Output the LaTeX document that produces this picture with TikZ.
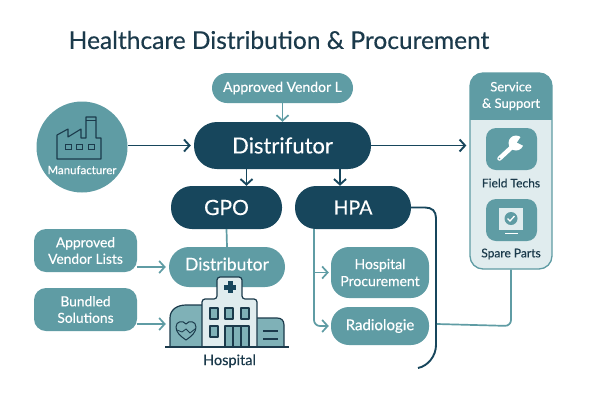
\documentclass[tikz,border=0pt]{standalone}
\usepackage{fontspec}
\setmainfont{Lato}[FakeBold=0.3,AutoFakeBold=false]
\newfontface\plainlato{Lato}[FakeBold=0.35]
\usetikzlibrary{arrows.meta,calc}
\definecolor{teal}{HTML}{5F9CA4}
\definecolor{navy}{HTML}{17465C}
\definecolor{ink}{HTML}{1B3A4B}
\definecolor{pale}{HTML}{E0ECEE}
\definecolor{midt}{HTML}{7FB1B7}
\tikzset{
  x=1pt,y=-1pt,
  pill/.style={rounded corners=#1,inner sep=0pt,text=white,align=center},
  tealbox/.style={pill=#1,fill=teal},
  darkbox/.style={pill=#1,fill=navy},
  darkline/.style={draw=navy,line width=1.9pt,-{Straight Barb[length=5.5pt,width=12pt,line width=1.9pt]}},
  tealline/.style={draw=teal,line width=1.7pt,-{Straight Barb[length=5.5pt,width=12pt,line width=1.7pt]}},
  plainteal/.style={draw=teal,line width=1.7pt,rounded corners=6pt},
  hosp/.style={draw=ink,line width=1.2pt,line join=round},
  lab/.style={text=ink,font=\plainlato\fontsize{12}{14}\selectfont},
}
\begin{document}
\begin{tikzpicture}
\useasboundingbox (0,0) rectangle (600,400);
\fill[white!99!pale] (0,0) rectangle (600,400);
\node[text=ink,font=\plainlato\fontsize{24.5}{28}\selectfont,anchor=center] (title) at (279,40) {Healthcare Distribution \& Procurement};

% manufacturer
\node[circle,fill=teal,minimum size=91pt,inner sep=0pt] (mfr) at (82,147) {};
\draw[ink,line width=1.1pt,line join=round] (57,159)--(57,135)--(68,129)--(68,137)--(81,129)--(81,138)--(86,138)--(86,117)--(96,117)--(96,138)--(101,138)--(101,159)--cycle;
\draw[ink,line width=.9pt] (86,120)--(96,120);
\foreach \x in {65,76.5,88} \draw[ink,line width=1pt] (\x,144.5) rectangle ++(6,5);
\node[text=white,font=\plainlato\fontsize{11.5}{13}\selectfont] (mfrlab) at (82,170) {Manufacturer};

% top nodes
\node[tealbox=15pt,minimum width=141pt,minimum height=30pt,font=\plainlato\fontsize{14}{16}\selectfont] (avl) at (282.5,88) {Approved Vendor L};
\node[darkbox=23pt,minimum width=177pt,minimum height=47pt,font=\plainlato\fontsize{22}{24}\selectfont] (dist) at (282.5,145.5) {Distrifutor};
\node[darkbox=21pt,minimum width=111pt,minimum height=43pt,font=\plainlato\fontsize{21}{24}\selectfont] (gpo) at (226.5,207.5) {GPO};
\node[darkbox=21pt,minimum width=116pt,minimum height=43pt,font=\plainlato\fontsize{19.5}{24}\selectfont] (hpa) at (353,207.5) {HPA};

% left
\node[tealbox=12pt,minimum width=103pt,minimum height=43pt,font=\plainlato\fontsize{13.8}{16.5}\selectfont] (alist) at (85.5,250.5) {Approved\\Vendor Lists};
\node[tealbox=12pt,minimum width=103pt,minimum height=43pt,font=\plainlato\fontsize{13.8}{16.5}\selectfont] (bund) at (85.5,309.5) {Bundled\\Solutions};
\node[tealbox=20pt,minimum width=116pt,minimum height=40pt,font=\plainlato\fontsize{17.5}{19}\selectfont] (d2) at (227,267) {\raisebox{6pt}{Distributor}};

% right column
\node[tealbox=18pt,minimum width=98pt,minimum height=51pt,font=\plainlato\fontsize{14}{17}\selectfont] (hp) at (380,272.5) {Hospital\\Procurement};
\node[tealbox=18pt,minimum width=98pt,minimum height=38pt,font=\plainlato\fontsize{15}{17}\selectfont] (rad) at (380,326) {Radiologie};

% service panel
\node[draw=teal,line width=1.3pt,fill=pale,rounded corners=13pt,minimum width=82pt,minimum height=196pt,inner sep=0pt] (svc) at (511,171) {};
\begin{scope}
\clip[rounded corners=13pt] (470,73) rectangle (552,269);
\fill[teal] (470,73) rectangle (552,120);
\end{scope}
\node[text=white,align=center,font=\plainlato\fontsize{13}{16.5}\selectfont] (svct) at (511,96) {Service\\\& Support};
\node[tealbox=10pt,minimum width=51pt,minimum height=42pt] (ft) at (511.5,149) {};
\node[tealbox=10pt,minimum width=51pt,minimum height=42pt] (sp) at (511.5,220) {};
\node[lab] (ftl) at (511,183) {Field Techs};
\node[lab] (spl) at (511,254) {Spare Parts};
% wrench
\draw[white,line width=4.5pt,line cap=round] (499.5,158.5)--(513,146);
\fill[white] (516,143) circle (7.5pt);
\fill[teal] (517,142.5)--(522,135)--(526,139)--(524,146)--cycle;
\fill[teal] (499.5,158.5) circle (0.9pt);
% spare icon
\fill[pale] (499,208) rectangle (523,230);
\fill[teal] (511,218.5) circle (6.5pt);
\draw[white,line width=1.3pt] (507.5,218.5)--(510,221)--(514.5,216);
\draw[white,line width=1.2pt] (505,233.5)--(518,233.5);

% connectors
\draw[darkline] (mfr.east|-dist.west) -- ($(dist.west)+(-3,0)$);
\draw[darkline] (dist.east) -- ($(svc.west|-dist.east)+(-3,0)$);
\draw[tealline] (avl.south) -- (dist.north);
\draw[darkline] (dist.south-|gpo.north) ++(20,0) coordinate (a1) -- (a1|-gpo.north);
\draw[darkline] (dist.south-|hpa.north) ++(-13,0) coordinate (a2) -- (a2|-hpa.north);
\draw[draw=teal,line width=1.7pt] (gpo.south) -- (d2.north);
\draw[tealline] (alist.east|-d2.west) -- ($(d2.west)+(-3,0)$);
\coordinate (bx) at ($(bund.east)+(0,14.5)$);
\coordinate (bt) at ($(d2.west|-bx)+(-3,0)$);
\draw[tealline] (bx) -- (bt);
% HPA branches
\coordinate (hb) at ($(hpa.south)+(-39,0)$);
\draw[draw=teal,line width=1.7pt] (hb) -- (hb|-hp.west);
\draw[tealline] (hb|-hp.west) -- ($(hp.west)+(-2,0)$);
\draw[tealline,rounded corners=6pt] (hb|-hp.west) -- (hb|-rad.west) -- ($(rad.west)+(-2,0)$);
% HPA dark curve
\coordinate (hc) at (418,368);
\draw[navy,line width=1.9pt] (hpa.east) -- (425,207.5) .. controls (432,207.5) and (436,211) .. (436,218) -- (436,345) .. controls (436,356) and (428,366) .. (hc);
% service line
\draw[plainteal] (svc.south) -- (svc.south|-rad.east) -- (437,324);

% hospital
\fill[midt] (170,347)--(170,318) .. controls (170,309) and (178,305) .. (186,305) -- (202,305)--(202,347)--cycle;
\draw[hosp] (170,347)--(170,318) .. controls (170,309) and (178,305) .. (186,305) -- (202,305);
\fill[midt] (284,347)--(284,325) .. controls (284,320) and (281,318) .. (277,318) -- (257,318)--(257,347)--cycle;
\draw[hosp] (284,347)--(284,325) .. controls (284,320) and (281,318) .. (277,318) -- (257,318);
\draw[hosp,fill=pale,rounded corners=3pt] (202,347)--(202,299)--(217,299)--(217,277)--(242,277)--(242,299)--(257,299)--(257,347);
\fill[navy] (227.5,281)rectangle(232.5,293);
\fill[navy] (224,284.5)rectangle(236,289.5);
\foreach \x/\y in {210/308,225/308,241/308,210/326}
  \draw[hosp,fill=midt] (\x,\y) rectangle ++(8,11);
\draw[hosp,fill=midt] (225,326) rectangle (249,347);
\draw[hosp] (233,326)--(233,347) (241,326)--(241,347);
\draw[hosp] (263,331)--(278,331) (263,339)--(278,339);
\draw[hosp,line width=1pt] (186,340) .. controls (180,336) and (176,332) .. (176,327) .. controls (176,321) and (183,320) .. (186,324) .. controls (189,320) and (196,321) .. (196,327) .. controls (196,332) and (192,336) .. (186,340) -- cycle;
\draw[ink,line width=.8pt] (177,330)--(182,332)--(186,329)--(190,333)--(195,329);
\draw[ink,line width=1.5pt] (165,347)--(289,347);
\node[text=ink,font=\plainlato\fontsize{14.5}{15}\selectfont] (hl) at (229.5,361) {Hospital};
\end{tikzpicture}
\end{document}
